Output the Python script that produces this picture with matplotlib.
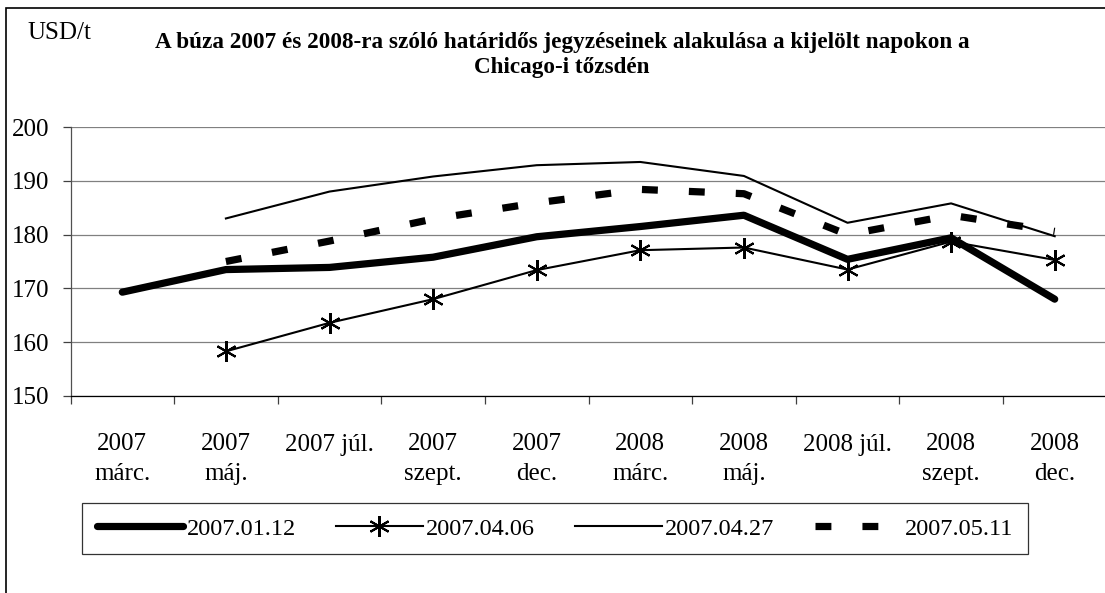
import numpy as np
import matplotlib
matplotlib.use("Agg")
import matplotlib.pyplot as plt
from matplotlib.patches import Rectangle

plt.rcParams['font.family'] = ['Liberation Serif', 'DejaVu Serif']

categories = ["2007\nmárc.", "2007\nmáj.", "2007 júl.", "2007\nszept.", "2007\ndec.",
              "2008\nmárc.", "2008\nmáj.", "2008 júl.", "2008\nszept.", "2008\ndec."]
s_20070112 = [169.3, 173.5, 173.9, 175.8, 179.6, 181.5, 183.6, 175.4, 179.4, 168.0]
s_20070406 = [np.nan, 158.3, 163.6, 168.0, 173.4, 177.1, 177.6, 173.5, 178.7, 175.3]
s_20070427 = [np.nan, 183.0, 188.0, 190.8, 192.9, 193.5, 190.9, 182.2, 185.8, 179.7]
s_20070511 = [np.nan, 175.0, 178.8, 182.9, 185.9, 188.4, 187.6, 180.0, 183.6, 180.6]
labels = ["2007.01.12", "2007.04.06", "2007.04.27", "2007.05.11"]
title = "A búza 2007 és 2008-ra szóló határidős jegyzéseinek alakulása a kijelölt napokon a\nChicago-i tőzsdén"
unit = "USD/t"

W, H = 1105, 593
fig = plt.figure(figsize=(W / 100, H / 100), dpi=100)
ax = fig.add_axes([70.5 / W, (H - 396) / H, 1036 / W, 269 / H])

x = np.arange(len(categories))
ax.plot(x, s_20070112, color='black', lw=5.2, solid_capstyle='round',
        solid_joinstyle='round', label=labels[0], zorder=3)
ax.plot(x, s_20070406, color='black', lw=1.5, marker=(6, 2, 0), markersize=15,
        markeredgewidth=1.5, label=labels[1], zorder=4)
ax.plot(x, s_20070427, color='black', lw=1.5, label=labels[2], zorder=3)
ax.plot(x, s_20070511, color='black', lw=5.2, linestyle=(0, (2.2, 4.3)),
        dash_capstyle='butt', label=labels[3], zorder=3)

ax.set_xlim(-0.5, len(categories) - 0.5)
ax.set_ylim(150, 200)
ax.set_yticks(np.arange(150, 201, 10))
ax.yaxis.grid(True, color='#808080', lw=0.9)
ax.set_axisbelow(True)

ax.set_xticks(np.arange(-0.5, len(categories), 1.0))
ax.set_xticklabels([])
ax.set_xticks(x, minor=True)
ax.set_xticklabels(categories, minor=True, fontsize=18, linespacing=1.42)
ax.tick_params(axis='x', which='major', length=6, width=0.9, color='#404040', direction='out')
ax.tick_params(axis='x', which='minor', length=0, pad=27)
ax.tick_params(axis='y', length=6, width=0.9, color='#404040', direction='out', pad=9, labelsize=18)

for s in ['top', 'right']:
    ax.spines[s].set_visible(False)
ax.spines['left'].set_color('#505050')
ax.spines['left'].set_linewidth(0.9)
ax.spines['bottom'].set_color('black')
ax.spines['bottom'].set_linewidth(0.9)

fig.text(562 / W, 1 - 55 / H, title, ha='center', va='center', fontsize=16.7,
         fontweight='bold', linespacing=1.25)
fig.text(27 / W, 1 - 33 / H, unit, ha='left', va='center', fontsize=18)

leg = fig.legend(loc='center', bbox_to_anchor=(555 / W, 1 - 528.5 / H), ncol=4,
                 fontsize=17.5, frameon=True, fancybox=False, handlelength=3.55,
                 handletextpad=0.15, columnspacing=1.65, borderpad=0.6)
leg.get_frame().set_edgecolor('black')
leg.get_frame().set_linewidth(0.9)

fig.patches.append(Rectangle((6 / W, -0.1), 1.2, 1 - 8 / H + 0.1, transform=fig.transFigure,
                             fill=False, edgecolor='black', lw=1.2, clip_on=False))

fig.savefig("out.png", dpi=100)
